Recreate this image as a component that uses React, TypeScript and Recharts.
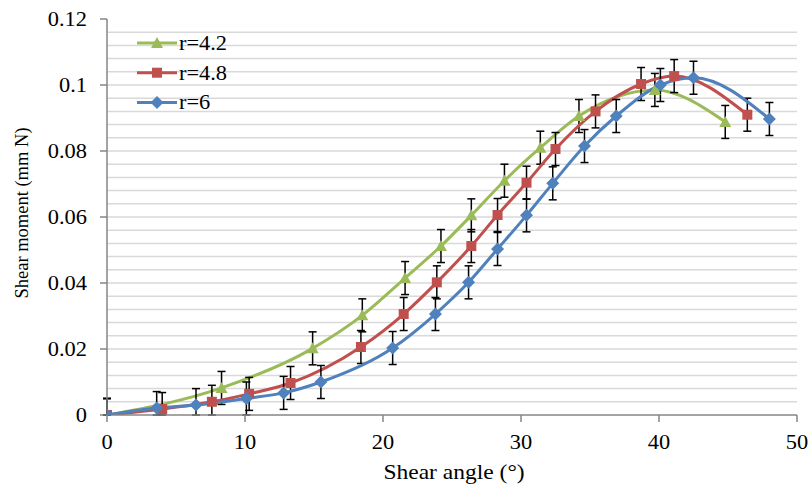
import { LineChart, Line, XAxis, YAxis, CartesianGrid, ErrorBar } from 'recharts';

// shear angle (deg) and shear moment (mm N)
const angle42 = [0, 8.3, 14.9, 18.5, 21.6, 24.2, 26.4, 28.8, 31.4, 34.2, 39.7, 44.8];
const moment42 = [0, 0.0082, 0.0202, 0.0302, 0.0415, 0.0512, 0.0605, 0.071, 0.081, 0.0906, 0.0985, 0.0888];

const angle48 = [0, 4.0, 7.6, 10.3, 13.3, 18.4, 21.5, 23.9, 26.4, 28.3, 30.4, 32.5, 35.4, 38.7, 41.1, 46.4];
const moment48 = [0, 0.0018, 0.004, 0.0064, 0.0097, 0.0206, 0.0306, 0.0402, 0.0512, 0.0606, 0.0704, 0.0806, 0.092, 0.1003, 0.1027, 0.091];

const angle6 = [0, 3.6, 6.45, 10.1, 12.8, 15.5, 20.7, 23.8, 26.2, 28.3, 30.4, 32.3, 34.6, 36.9, 40.1, 42.5, 48.0];
const moment6 = [0, 0.0021, 0.003, 0.005, 0.0067, 0.01, 0.0203, 0.0306, 0.0402, 0.0503, 0.0605, 0.0702, 0.0815, 0.0906, 0.1, 0.1022, 0.0897];

const ERR = 0.005;

const xTicks = [0, 10, 20, 30, 40, 50];
const yMajor = [0, 0.02, 0.04, 0.06, 0.08, 0.1, 0.12];
const yMinorStep = 0.004;

const GREEN = '#9BBB59';
const RED = '#C0504D';
const BLUE = '#4F81BD';
const AXIS = '#868686';
const FONT = 'Liberation Serif, Times New Roman, serif';
// the original text is a little wider than Times at the same height
const STRETCH = 1.12;

const yTicks = Array.from({ length: Math.round(0.12 / yMinorStep) + 1 }, (_, i) => Number((i * yMinorStep).toFixed(3)));

function build(xs: number[], ys: number[]) {
  // error bars are cut at the x axis in the original
  return xs.map((x, i) => ({ x, y: ys[i], err: [Math.min(ERR, ys[i]), ERR] }));
}

const series = [
  { name: 'r=4.2', color: GREEN, shape: 'triangle', data: build(angle42, moment42) },
  { name: 'r=4.8', color: RED, shape: 'square', data: build(angle48, moment48) },
  { name: 'r=6', color: BLUE, shape: 'diamond', data: build(angle6, moment6) },
];

function Marker({ cx, cy, shape, color }: any) {
  if (cx == null || cy == null) return null;
  if (shape === 'triangle') {
    return <path d={`M${cx},${cy - 6} L${cx + 6},${cy + 5} L${cx - 6},${cy + 5} Z`} fill={color} />;
  }
  if (shape === 'square') {
    return <rect x={cx - 5} y={cy - 5} width={10} height={10} fill={color} />;
  }
  return <path d={`M${cx},${cy - 6.5} L${cx + 6.5},${cy} L${cx},${cy + 6.5} L${cx - 6.5},${cy} Z`} fill={color} />;
}

function Txt({ x, y, anchor, size, children }: any) {
  return (
    <text
      transform={`translate(${x},${y}) scale(${STRETCH},1)`}
      textAnchor={anchor}
      style={{ fontSize: size, fontFamily: FONT }}
      fill="#000"
    >
      {children}
    </text>
  );
}

function YTick({ x, y, payload }: any) {
  const v = payload.value;
  const major = yMajor.some((m) => Math.abs(m - v) < 1e-9);
  if (!major) return null;
  return (
    <g>
      <line x1={x - 7} x2={x} y1={y} y2={y} stroke={AXIS} strokeWidth={1.5} />
      <Txt x={x - 20} y={y + 7} anchor="end" size={20}>
        {String(Number(v.toFixed(3)))}
      </Txt>
    </g>
  );
}

function XTick({ x, y, payload }: any) {
  return (
    <Txt x={x} y={y + 27} anchor="middle" size={20}>
      {payload.value}
    </Txt>
  );
}

// axis titles and legend sit in an overlay drawn over the chart
function Overlay() {
  return (
    <svg width={811} height={486} style={{ position: 'absolute', left: 0, top: 0, pointerEvents: 'none' }}>
      <Txt x={454} y={479} anchor="middle" size={21}>
        Shear angle (°)
      </Txt>
      <text
        transform="translate(28,213) rotate(-90)"
        textAnchor="middle"
        style={{ fontSize: 18.5, fontFamily: FONT }}
        fill="#000"
      >
        Shear moment (mm N)
      </text>
      {series.map((s, i) => {
        const y = 43 + i * 29.7;
        return (
          <g key={s.name}>
            <line x1={137} x2={177} y1={y} y2={y} stroke={s.color} strokeWidth={3} />
            <Marker cx={157} cy={y} shape={s.shape} color={s.color} />
            <Txt x={179} y={y + 7} anchor="start" size={20}>
              {s.name}
            </Txt>
          </g>
        );
      })}
    </svg>
  );
}

export default function App() {
  return (
    <div style={{ position: 'absolute', left: 0, top: 0, width: 811, height: 486, background: '#fff', fontFamily: FONT }}>
      <LineChart width={811} height={486} margin={{ top: 19, right: 14, bottom: 0, left: 0 }}>
        <CartesianGrid
          vertical={false}
          stroke="#d9d9d9"
          strokeWidth={1.5}
          horizontalValues={yTicks.filter((t) => t > 0 && t < 0.12)}
        />
        <XAxis
          type="number"
          dataKey="x"
          domain={[0, 50]}
          ticks={xTicks}
          allowDataOverflow
          height={71}
          stroke={AXIS}
          strokeWidth={1.5}
          tickSize={7}
          tickMargin={0}
          tick={<XTick />}
        />
        <YAxis
          type="number"
          domain={[0, 0.12]}
          ticks={yTicks}
          allowDataOverflow
          width={107}
          stroke={AXIS}
          strokeWidth={1.5}
          tickLine={false}
          tickSize={0}
          tickMargin={0}
          interval={0}
          tick={<YTick />}
        />
        {series.map((s) => (
          <Line
            key={s.name}
            name={s.name}
            data={s.data}
            dataKey="y"
            type="monotone"
            stroke={s.color}
            strokeWidth={3}
            dot={(p: any) => <Marker key={`${s.name}-${p.index}`} cx={p.cx} cy={p.cy} shape={s.shape} color={s.color} />}
            activeDot={false}
            isAnimationActive={false}
          >
            <ErrorBar dataKey="err" direction="y" width={4} stroke="#000" strokeWidth={1.5} isAnimationActive={false} />
          </Line>
        ))}
      </LineChart>
      <Overlay />
    </div>
  );
}
